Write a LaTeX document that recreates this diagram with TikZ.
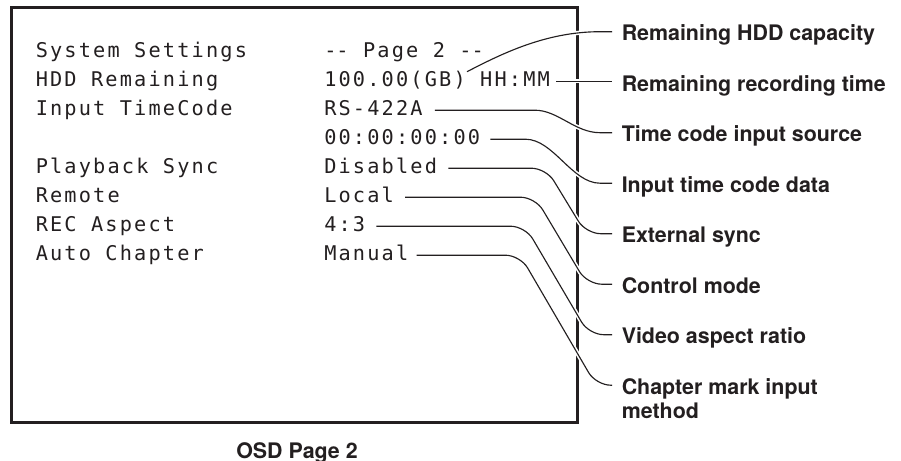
\documentclass[tikz,border=0pt]{standalone}
\usepackage{fontspec}
\usetikzlibrary{calc}
\newfontfamily\osdfont{DejaVu Sans Mono}[LetterSpace=10.7]
\newfontfamily\labfont{TeX Gyre Heros}
\definecolor{ink}{RGB}{35,31,32}
\newcommand\osp{\kern10.8pt\relax}
\tikzset{
  osd/.style={inner sep=0pt, anchor=base west, text=ink, font=\osdfont\fontsize{15.2pt}{18pt}\selectfont},
  lab/.style={inner sep=0pt, anchor=base west, text=ink, font=\labfont\bfseries\fontsize{16.05pt}{19pt}\selectfont},
  conn/.style={draw=ink, line width=0.85pt, preaction={draw=white, line width=3.2pt}},
  frame/.style={draw=ink, line width=2.1pt}
}
\begin{document}
\begin{tikzpicture}[x=0.75pt,y=-0.75pt]
\useasboundingbox (0,0) rectangle (901,461);
\fill[white] (0,0) rectangle (901,461);
% screen frame
\draw[frame] (11.7,7.3) rectangle (577.7,422.7);
% left column
\node[osd] (k0) at (35.5,57.7) {System\osp Settings};
\node[osd] (k1) at (35.5,86.7) {HDD\osp Remaining};
\node[osd] (k2) at (35.5,115.7) {Input\osp TimeCode};
\node[osd] (k4) at (35.5,173.7) {Playback\osp Sync};
\node[osd] (k5) at (35.5,202.7) {Remote};
\node[osd] (k6) at (35.5,231.7) {REC\osp Aspect};
\node[osd] (k7) at (35.5,260.7) {Auto\osp Chapter};
% value column
\node[osd] (v0) at (324,57.7) {-\kern0pt-\osp Page\osp 2\osp -\kern0pt-};
\node[osd] (v1) at (324,86.7) {100.00(GB)\osp HH:MM};
\node[osd] (v2) at (324,115.7) {RS-422A};
\node[osd] (v3) at (324,144.7) {00:00:00:00};
\node[osd] (v4) at (324,173.7) {Disabled};
\node[osd] (v5) at (324,202.7) {Local};
\node[osd] (v6) at (324,231.7) {4:3};
\node[osd] (v7) at (324,260.7) {Manual};
% labels
\node[lab] (l1) at (621.5,40.7) {Remaining HDD capacity};
\node[lab] (l2) at (621.5,91.2) {Remaining recording time};
\node[lab] (l3) at (621.5,141.7) {Time code input source};
\node[lab] (l4) at (621.5,192.2) {Input time code data};
\node[lab] (l5) at (621.5,242.7) {External sync};
\node[lab] (l6) at (621.5,293.2) {Control mode};
\node[lab] (l7) at (621.5,343.7) {Video aspect ratio};
\node[lab] (l8) at (621.5,394.2) {Chapter mark input};
\node[lab] (l8b) at (621.5,418.2) {method};
\node[lab] (cap) at (236,458) {OSD Page 2};
% connector end points
\coordinate (s1) at ($(v1.base west)+(143,-15)$);
\coordinate (e1) at ($(l1.base west)+(-9.5,-9)$);
\coordinate (s2) at ($(v1.base east)+(6,-5.5)$);
\coordinate (e2) at ($(l2.base west)+(-9.5,-9)$);
\coordinate (s3) at ($(v2.base east)+(12,-5.5)$);
\coordinate (e3) at ($(l3.base west)+(-9.5,-9)$);
\coordinate (s4) at ($(v3.base east)+(10,-5.5)$);
\coordinate (e4) at ($(l4.base west)+(-9.5,-9)$);
\coordinate (s5) at ($(v4.base east)+(11,-5.5)$);
\coordinate (e5) at ($(l5.base west)+(-9.5,-9)$);
\coordinate (s6) at ($(v5.base east)+(11,-5.5)$);
\coordinate (e6) at ($(l6.base west)+(-9.5,-9)$);
\coordinate (s7) at ($(v6.base east)+(11,-5.5)$);
\coordinate (e7) at ($(l7.base west)+(-9.5,-9)$);
\coordinate (s8) at ($(v7.base east)+(8,-5.5)$);
\coordinate (e8) at ($(l8.base west)+(-9.5,-9)$);
% connectors
\draw[conn] (s1) .. controls +(33,-17) and +(-55,0) .. ($(e1)+(-12,0)$) -- (e1);
\draw[conn] (s2) -- (s2 -| e2);
\draw[conn] (s3) -- ++(100,0) .. controls +(23,0) and +(-25,0) .. ($(e3)+(-12,0)$) -- (e3);
\draw[conn] (s4) -- ++(35,0) .. controls +(28,0) and +(-28,0) .. ($(e4)+(-12,0)$) -- (e4);
\draw[conn, rounded corners=11pt] (s5) -- ++(97.8,0) -- ($(e5)+(-26,0)$) -- (e5);
\draw[conn, rounded corners=11pt] (s6) -- ++(130,0) -- ($(e6)+(-25,0)$) -- (e6);
\draw[conn, rounded corners=11pt] (s7) -- ++(148.8,0) -- ($(e7)+(-23,0)$) -- (e7);
\draw[conn, rounded corners=11pt] (s8) -- ++(103.6,0) -- ($(e8)+(-16,0)$) -- (e8);
\end{tikzpicture}
\end{document}
